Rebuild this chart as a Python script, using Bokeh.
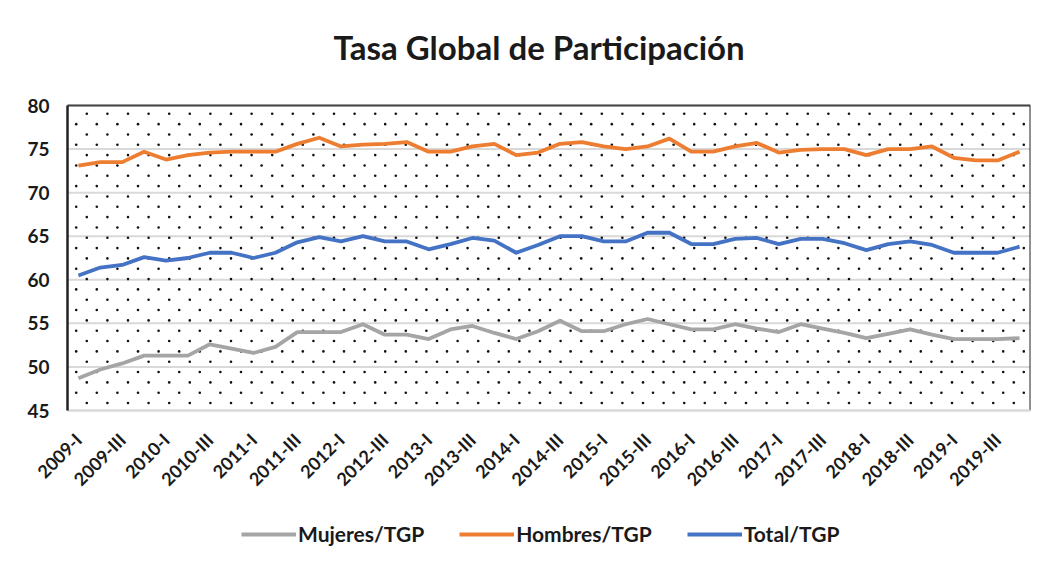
import numpy as np
from bokeh.plotting import figure
from bokeh.models import (Range1d, FixedTicker, Legend, LegendItem)
from bokeh.embed import file_html
from bokeh.resources import INLINE

# ---- data ----
tick_labels = ["2009-I", "2009-III", "2010-I", "2010-III", "2011-I", "2011-III",
               "2012-I", "2012-III", "2013-I", "2013-III", "2014-I", "2014-III",
               "2015-I", "2015-III", "2016-I", "2016-III", "2017-I", "2017-III",
               "2018-I", "2018-III", "2019-I", "2019-III"]

mujeres = [48.7, 49.7, 50.4, 51.3, 51.3, 51.3, 52.6, 52.1, 51.6, 52.3, 54.0,
           54.0, 54.0, 54.9, 53.7, 53.7, 53.2, 54.3, 54.7, 53.9, 53.2, 54.1,
           55.3, 54.1, 54.1, 54.9, 55.5, 54.9, 54.3, 54.3, 54.9, 54.4, 54.0,
           54.9, 54.4, 53.9, 53.3, 53.8, 54.3, 53.7, 53.2, 53.2, 53.2, 53.3]

hombres = [73.1, 73.5, 73.5, 74.7, 73.8, 74.3, 74.6, 74.7, 74.7, 74.7, 75.6,
           76.3, 75.3, 75.5, 75.6, 75.8, 74.7, 74.7, 75.3, 75.6, 74.3, 74.6,
           75.6, 75.8, 75.3, 75.0, 75.3, 76.2, 74.7, 74.7, 75.3, 75.7, 74.6,
           74.9, 75.0, 75.0, 74.3, 75.0, 75.0, 75.3, 74.0, 73.7, 73.7, 74.7]

total = [60.5, 61.4, 61.7, 62.6, 62.2, 62.5, 63.1, 63.1, 62.5, 63.1, 64.3,
         64.9, 64.4, 65.0, 64.4, 64.4, 63.5, 64.1, 64.8, 64.5, 63.1, 64.0,
         65.0, 65.0, 64.4, 64.4, 65.4, 65.4, 64.1, 64.1, 64.7, 64.8, 64.1,
         64.7, 64.7, 64.2, 63.4, 64.1, 64.4, 64.0, 63.1, 63.1, 63.1, 63.8]

y_ticks = [45, 50, 55, 60, 65, 70, 75, 80]
series_names = ["Mujeres/TGP", "Hombres/TGP", "Total/TGP"]
colors = ["#A5A5A5", "#ED7D31", "#4472C4"]

n = len(total)
xs = list(range(n))
FONT = "Lato"

# layout: plot area 963x305 px for 45..80; the frame is extended left/up/down so that
# tick labels and legend (drawn inside the frame) are not clipped
PW, PH = 963, 305
EXTRA_L = 63
EXTRA_T = 14
FW, FH = PW + EXTRA_L, 455 + EXTRA_T
px_y = PH / 35.0
px_x = PW / n
y_hi = 80 + EXTRA_T / px_y
y_lo = y_hi - FH / px_y
x_lo = -0.5 - EXTRA_L / px_x
x0, x1 = -0.5, n - 0.5

p = figure(frame_width=FW, frame_height=FH,
           x_range=Range1d(x_lo, x1), y_range=Range1d(y_lo, y_hi),
           output_backend="svg", toolbar_location=None,
           min_border_left=4, min_border_right=19,
           min_border_top=90, min_border_bottom=0)
p.outline_line_color = None
p.background_fill_color = "white"
p.xgrid.grid_line_color = None
p.ygrid.grid_line_color = None

# title
p.title.text = "Tasa Global de Participación"
p.title.align = "left"
p.title.offset = 329
p.title.text_font = FONT
p.title.text_font_size = "33px"
p.title.text_font_style = "bold"
p.title.text_color = "#1a1a1a"
p.title.standoff = 49

# horizontal gridlines of the plot area
p.segment(x0=[x0] * len(y_ticks), y0=y_ticks, x1=[x1] * len(y_ticks), y1=y_ticks,
          line_color="#D9D9D9", line_width=2)

# dotted plot-area fill pattern (decorative texture)
dot_x, dot_y = [], []
row_y = 80 - 8.3 / px_y
r = 0
while row_y > 45:
    start = (19.3 if r % 2 == 0 else 8.7) / px_x - 0.5
    for xv in np.arange(start, x1, 20.6 / px_x):
        dot_x.append(xv)
        dot_y.append(row_y)
    row_y -= 10.33 / px_y
    r += 1
p.scatter(dot_x, dot_y, size=2.6, color="#111111", line_color=None)

# axes (fixed inside the frame)
p.yaxis.ticker = FixedTicker(ticks=y_ticks)
p.yaxis.bounds = (45, 80)
p.yaxis.fixed_location = x0

p.xaxis.ticker = FixedTicker(ticks=list(range(0, n, 2)))
p.xaxis.major_label_overrides = {i * 2: lab for i, lab in enumerate(tick_labels)}
p.xaxis.major_label_orientation = np.pi / 4
p.xaxis.fixed_location = 45
p.xaxis.bounds = (x0, x1)

for ax in (p.xaxis[0], p.yaxis[0]):
    ax.major_tick_line_color = None
    ax.minor_tick_line_color = None
    ax.major_tick_out = 0
    ax.major_tick_in = 0
    ax.major_label_text_font = FONT
    ax.major_label_text_font_style = "bold"
    ax.major_label_text_color = "#1a1a1a"

p.xaxis.major_label_text_font_size = "18px"
p.yaxis.major_label_text_font_size = "19px"
p.xaxis.major_label_standoff = 26
p.yaxis.major_label_standoff = 18
p.xaxis.axis_line_color = "#D9D9D9"
p.xaxis.axis_line_width = 2
p.yaxis.axis_line_color = "#222222"
p.yaxis.axis_line_width = 2.5

# lines
renderers = []
for vals, c in zip([mujeres, hombres, total], colors):
    renderers.append(p.line(xs, vals, line_color=c, line_width=3.8, line_join="round"))

# top and right border of plot area
p.segment(x0=[x0, x1], y0=[80, 45], x1=[x1, x1], y1=[80, 80],
          line_color=["#444444", "#222222"], line_width=2)

legend = Legend(items=[LegendItem(label=nm, renderers=[rr]) for nm, rr in zip(series_names, renderers)],
                orientation="horizontal", location=(174 + EXTRA_L, 14))
legend.border_line_color = None
legend.background_fill_alpha = 0
legend.label_text_font = FONT
legend.label_text_font_style = "bold"
legend.label_text_font_size = "21px"
legend.label_text_color = "#1a1a1a"
legend.glyph_width = 55
legend.glyph_height = 20
legend.label_standoff = 2
legend.spacing = 35
legend.padding = 0
legend.margin = 0
p.add_layout(legend, "center")

open("out.html", "w").write(file_html(p, INLINE))
